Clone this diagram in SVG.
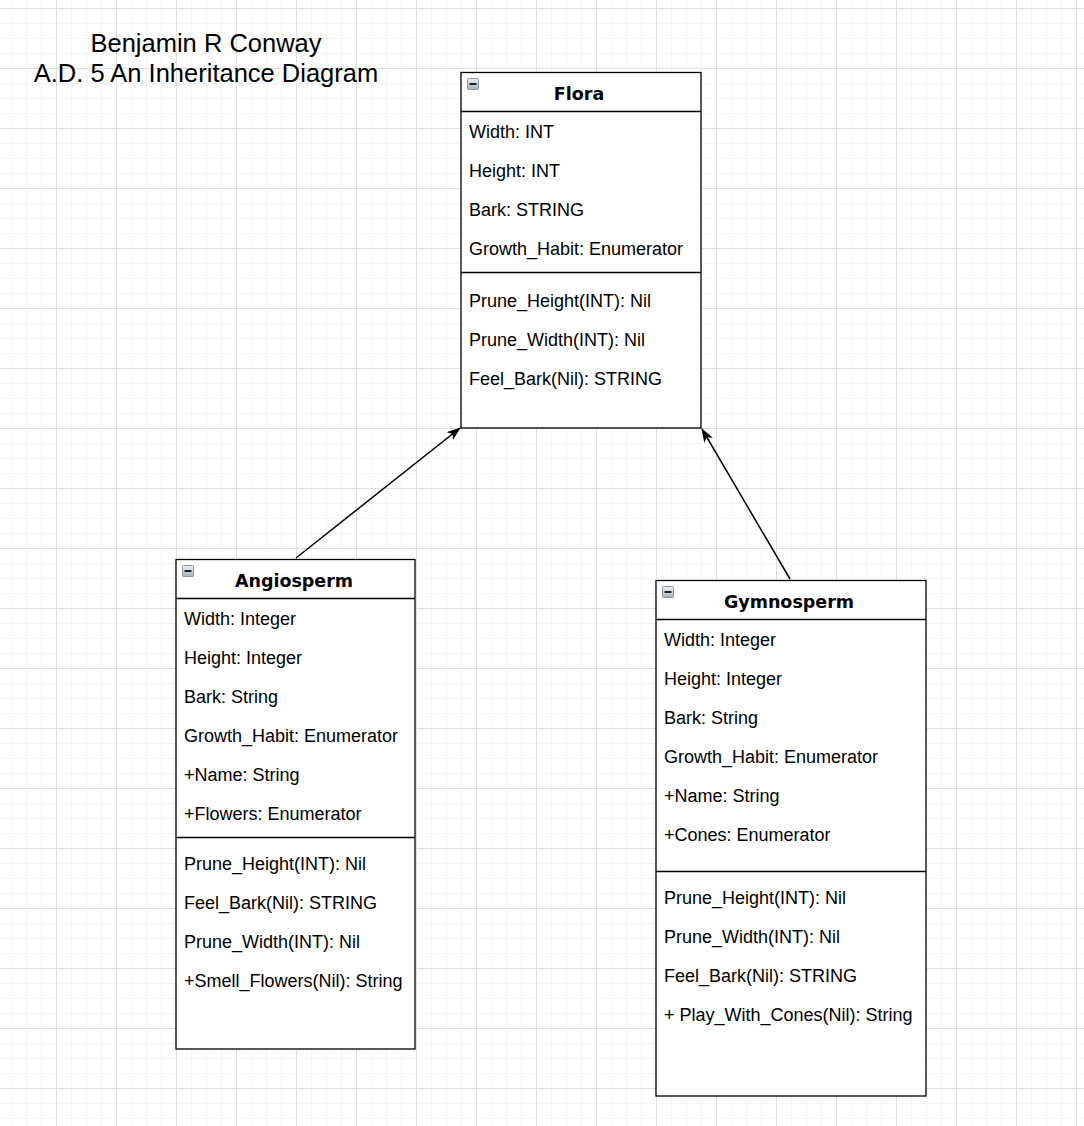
<svg xmlns="http://www.w3.org/2000/svg" width="1084" height="1126" viewBox="0 0 1084 1126">
<defs>
<pattern id="minor" patternUnits="userSpaceOnUse" x="-4" y="8" width="15" height="15">
<path d="M0.5 0V15M0 0.5H15" fill="none" stroke="#f5f5f5" stroke-width="1"/>
</pattern>
<pattern id="major" patternUnits="userSpaceOnUse" x="-4" y="8" width="60" height="60">
<path d="M0.5 0V60M0 0.5H60" fill="none" stroke="#e0e0e0" stroke-width="1"/>
</pattern>
<linearGradient id="ig" x1="0" y1="0" x2="0" y2="1">
<stop offset="0" stop-color="#eef2f6"/>
<stop offset="1" stop-color="#a6b0ba"/>
</linearGradient>
<marker id="arr" viewBox="0 0 14 10" refX="13" refY="5" markerWidth="14" markerHeight="10" markerUnits="userSpaceOnUse" orient="auto">
<path d="M0 0L14 5L0 10L3.5 5Z" fill="#000"/>
</marker>
<g id="icon">
<rect x="0.5" y="0.5" width="11" height="11" rx="1" fill="url(#ig)" stroke="#8a95a0"/>
<rect x="2.5" y="5" width="7" height="2" fill="#222"/>
</g>
</defs>
<style>
.box{fill:#fff;stroke:#000;stroke-width:1.3}
.ln{stroke:#000;stroke-width:1.3}
.t{font-family:"Liberation Sans",Arial,sans-serif;font-size:18px;fill:#000}
.h{font-family:"DejaVu Sans",Verdana,sans-serif;font-weight:bold;font-size:17.5px;fill:#000;text-anchor:middle}
.ti{font-family:"Liberation Sans",Arial,sans-serif;font-size:25.5px;fill:#000;text-anchor:middle}
.c{stroke:#000;stroke-width:1.5;fill:none}
</style>
<rect width="1084" height="1126" fill="#fff"/>
<rect width="1084" height="1126" fill="url(#minor)"/>
<rect width="1084" height="1126" fill="url(#major)"/>

<g id="title">
<text class="ti" x="206" y="52">Benjamin R Conway</text>
<text class="ti" x="206" y="82">A.D. 5 An Inheritance Diagram</text>
</g>

<g id="connectors">
<line class="c" x1="296" y1="558" x2="460" y2="428" marker-end="url(#arr)"/>
<line class="c" x1="790" y1="579" x2="702" y2="429" marker-end="url(#arr)"/>
</g>

<g id="flora">
<rect class="box" x="461" y="72.5" width="240" height="355.5"/>
<line class="ln" x1="461" y1="111.5" x2="701" y2="111.5"/>
<use href="#icon" x="467" y="78"/>
<text class="h" x="579" y="100">Flora</text>
<text class="t" x="469" y="137.5">Width: INT</text>
<text class="t" x="469" y="176.5">Height: INT</text>
<text class="t" x="469" y="215.5">Bark: STRING</text>
<text class="t" x="469" y="254.5">Growth_Habit: Enumerator</text>
<line class="ln" x1="461" y1="272.5" x2="701" y2="272.5"/>
<text class="t" x="469" y="306.5">Prune_Height(INT): Nil</text>
<text class="t" x="469" y="345.5">Prune_Width(INT): Nil</text>
<text class="t" x="469" y="384.5">Feel_Bark(Nil): STRING</text>
</g>

<g id="angiosperm">
<rect class="box" x="176" y="559.5" width="239" height="489.5"/>
<line class="ln" x1="176" y1="598.5" x2="415" y2="598.5"/>
<use href="#icon" x="182" y="565"/>
<text class="h" x="294" y="587">Angiosperm</text>
<text class="t" x="184" y="624.5">Width: Integer</text>
<text class="t" x="184" y="663.5">Height: Integer</text>
<text class="t" x="184" y="702.5">Bark: String</text>
<text class="t" x="184" y="741.5">Growth_Habit: Enumerator</text>
<text class="t" x="184" y="780.5">+Name: String</text>
<text class="t" x="184" y="819.5">+Flowers: Enumerator</text>
<line class="ln" x1="176" y1="837.5" x2="415" y2="837.5"/>
<text class="t" x="184" y="869.5">Prune_Height(INT): Nil</text>
<text class="t" x="184" y="908.5">Feel_Bark(Nil): STRING</text>
<text class="t" x="184" y="947.5">Prune_Width(INT): Nil</text>
<text class="t" x="184" y="986.5">+Smell_Flowers(Nil): String</text>
</g>

<g id="gymnosperm">
<rect class="box" x="656" y="580.5" width="270" height="515.5"/>
<line class="ln" x1="656" y1="619.5" x2="926" y2="619.5"/>
<use href="#icon" x="662" y="586"/>
<text class="h" x="789" y="608">Gymnosperm</text>
<text class="t" x="664" y="645.5">Width: Integer</text>
<text class="t" x="664" y="684.5">Height: Integer</text>
<text class="t" x="664" y="723.5">Bark: String</text>
<text class="t" x="664" y="762.5">Growth_Habit: Enumerator</text>
<text class="t" x="664" y="801.5">+Name: String</text>
<text class="t" x="664" y="840.5">+Cones: Enumerator</text>
<line class="ln" x1="656" y1="871.5" x2="926" y2="871.5"/>
<text class="t" x="664" y="903.5">Prune_Height(INT): Nil</text>
<text class="t" x="664" y="942.5">Prune_Width(INT): Nil</text>
<text class="t" x="664" y="981.5">Feel_Bark(Nil): STRING</text>
<text class="t" x="664" y="1020.5">+ Play_With_Cones(Nil): String</text>
</g>
</svg>
